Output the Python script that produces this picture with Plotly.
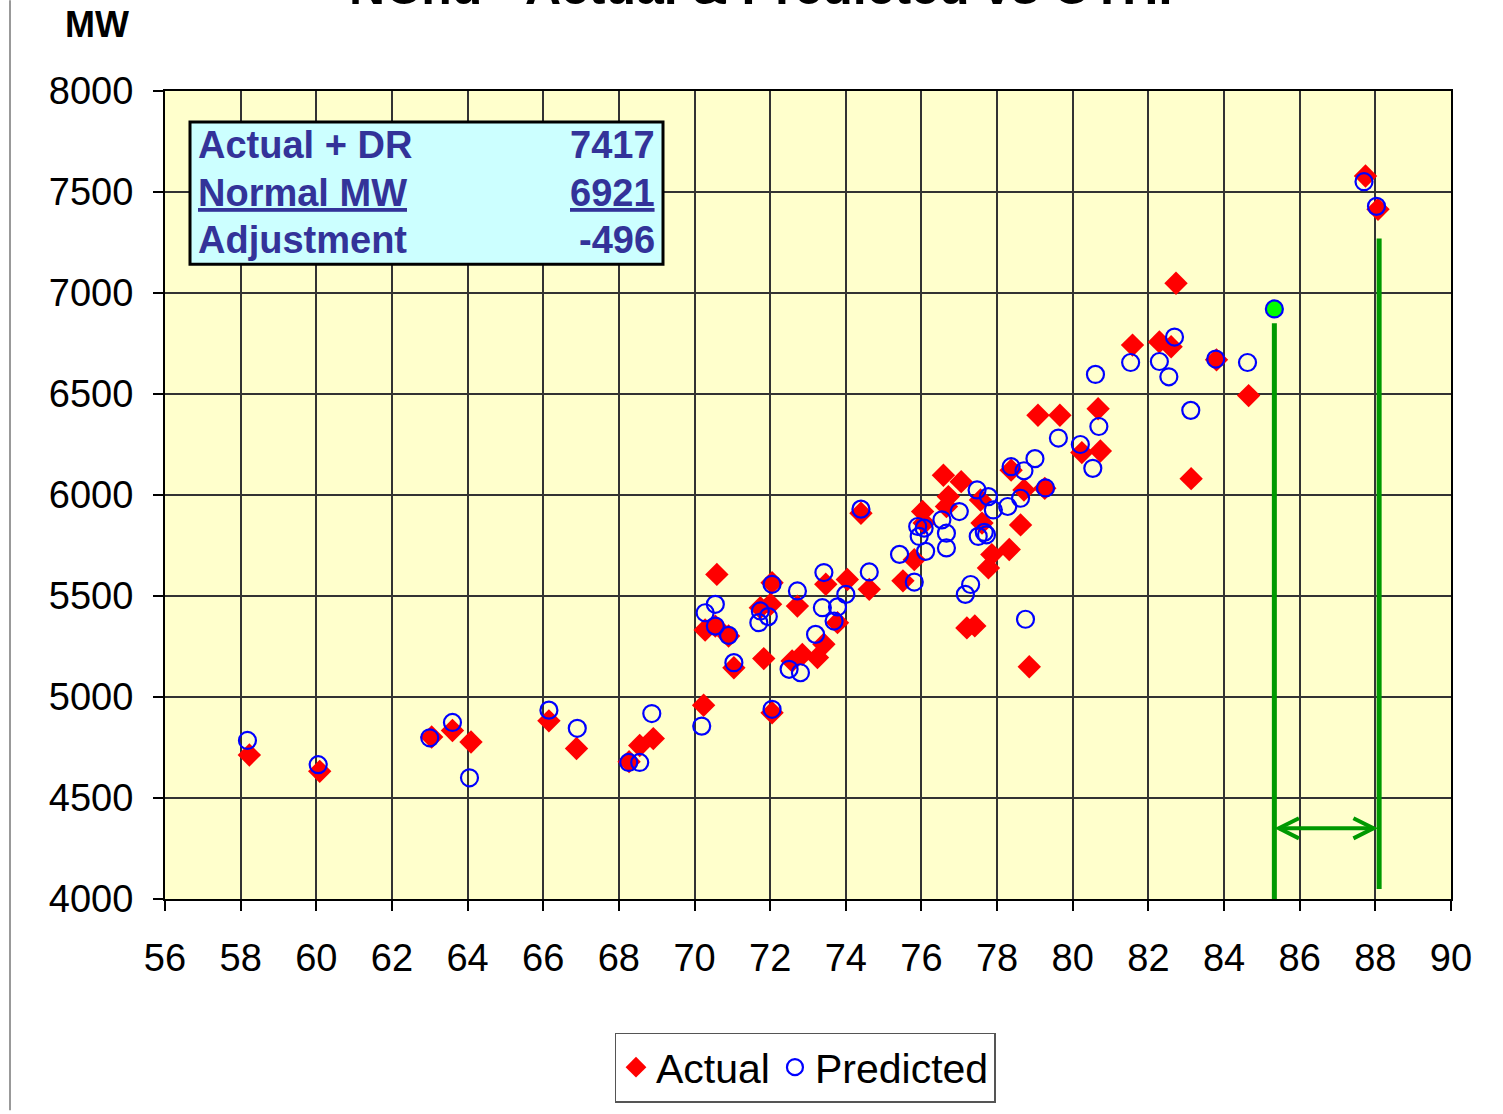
import plotly.graph_objects as go

# Actual load (red diamonds)
actual_x = [58.23, 60.09, 63.05, 63.6, 64.09, 66.15, 66.88, 68.27, 68.55, 68.91,
            70.24, 70.59, 70.28, 70.55, 70.9, 71.04, 71.83, 71.74, 72.05, 72.01,
            72.05, 72.72, 72.58, 72.85, 73.25, 73.42, 73.47, 73.78, 74.04, 74.62,
            74.4, 75.51, 75.81, 76.03, 76.07, 76.58, 77.05, 76.71, 76.66, 77.56,
            77.6, 77.86, 77.77, 78.32, 78.62, 78.71, 79.26, 78.37, 77.2, 77.41,
            78.85, 79.08, 79.66, 80.67, 80.24, 80.73, 81.58, 82.29, 82.6, 82.73,
            83.8, 84.65, 83.13, 87.74, 88.07]
actual_y = [4713, 4632, 4802, 4834, 4777, 4882, 4745, 4680, 4760, 4794,
            4959, 5607, 5332, 5351, 5302, 5145, 5190, 5442, 5566, 5459,
            4922, 5450, 5178, 5211, 5195, 5261, 5558, 5368, 5582, 5533,
            5910, 5575, 5680, 5918, 5861, 6098, 6066, 5992, 5943, 5975,
            5861, 5705, 5639, 5730, 5852, 6025, 6033, 6123, 5342, 5352,
            5150, 6395, 6395, 6427, 6210, 6218, 6742, 6758, 6734, 7048,
            6669, 6492, 6081, 7579, 7414]

# Predicted load (blue open circles)
pred_x = [58.18, 60.05, 63.0, 63.6, 64.05, 66.15, 66.9, 68.26, 68.55, 68.87,
          70.19, 70.28, 70.55, 70.55, 70.9, 71.04, 72.05, 71.74, 71.95, 71.7,
          72.05, 72.72, 72.5, 72.8, 73.2, 73.42, 73.38, 73.78, 73.69, 74.0,
          74.62, 74.4, 75.42, 75.81, 75.9, 76.07, 75.94, 76.54, 77.0, 76.66,
          76.66, 76.11, 77.5, 77.66, 77.72, 77.3, 77.16, 78.75, 77.47, 77.77,
          77.9, 78.28, 78.62, 78.71, 79.0, 79.28, 78.37, 79.62, 80.2, 80.53,
          80.69, 80.6, 81.53, 82.29, 82.54, 82.69, 83.12, 83.78, 84.62, 87.7,
          88.03]
pred_y = [4785, 4665, 4798, 4874, 4600, 4935, 4845, 4676, 4676, 4918,
          4856, 5417, 5459, 5351, 5305, 5170, 5558, 5426, 5398, 5368,
          4939, 5525, 5137, 5120, 5310, 5616, 5442, 5446, 5376, 5508,
          5619, 5930, 5706, 5569, 5844, 5836, 5795, 5877, 5918, 5811,
          5738, 5721, 5795, 5815, 5803, 5557, 5508, 5385, 6025, 5992,
          5926, 5943, 5984, 6120, 6180, 6035, 6140, 6282, 6250, 6132,
          6339, 6597, 6656, 6661, 6585, 6782, 6419, 6673, 6656, 7551,
          7429]

# normal-weather point
normal_x = [85.33]
normal_y = [6921]

# green guide lines: x, y top, y bottom
guide_x = [85.33, 88.1]
guide_top = [6850, 7270]
guide_bottom = [4000, 4050]
arrow_y = 4350
arrow_x = [85.45, 87.95]

table_labels = ["Actual + DR", "<u>Normal MW</u>", "Adjustment"]
table_values = ["7417", "<u>6921</u>", "-496"]

W, H = 1503, 1114
L, R, T, B = 165, 1451, 91, 902


def px_x(p):
    return (p - L) / (R - L)


def px_y(p):
    return (B - p) / (B - T)


fig = go.Figure()
fig.add_trace(go.Scatter(
    x=actual_x, y=actual_y, mode="markers", name="Actual",
    marker=dict(symbol="diamond", size=18, color="#FF0000", line=dict(width=0))))
fig.add_trace(go.Scatter(
    x=pred_x, y=pred_y, mode="markers", name="Predicted",
    marker=dict(symbol="circle-open", size=17, color="#0000FF", line=dict(width=2.2))))
fig.add_trace(go.Scatter(
    x=normal_x, y=normal_y, mode="markers", showlegend=False,
    marker=dict(symbol="circle", size=17, color="#00FF00", line=dict(width=2.2, color="#0000FF"))))

green = "#009900"
shapes = []
for gx, gt, gb in zip(guide_x, guide_top, guide_bottom):
    shapes.append(dict(type="line", xref="x", yref="y", x0=gx, x1=gx, y0=gb, y1=gt,
                       line=dict(color=green, width=5)))
# double headed arrow
hx, hy = 0.53, 50
a0, a1 = arrow_x
shapes.append(dict(type="line", xref="x", yref="y", x0=a0, x1=a1, y0=arrow_y, y1=arrow_y,
                   line=dict(color=green, width=4)))
shapes.append(dict(type="path", xref="x", yref="y",
                   path=f"M{a0 + hx},{arrow_y + hy} L{a0},{arrow_y} L{a0 + hx},{arrow_y - hy}",
                   line=dict(color=green, width=4)))
shapes.append(dict(type="path", xref="x", yref="y",
                   path=f"M{a1 - hx},{arrow_y + hy} L{a1},{arrow_y} L{a1 - hx},{arrow_y - hy}",
                   line=dict(color=green, width=4)))
# table box
shapes.append(dict(type="rect", xref="paper", yref="paper",
                   x0=px_x(190), x1=px_x(663), y0=px_y(265), y1=px_y(122),
                   fillcolor="#CCFFFF", line=dict(color="black", width=3), layer="above"))
# outer chart frame line on the left
shapes.append(dict(type="line", xref="paper", yref="paper",
                   x0=px_x(10), x1=px_x(10), y0=px_y(0), y1=px_y(H),
                   line=dict(color="#777777", width=1.5)))

annotations = []
box_font = dict(family="Liberation Sans", size=38, color="#333399")
for i, (lab, val) in enumerate(zip(table_labels, table_values)):
    yy = px_y(145 + 48 * i)
    annotations.append(dict(xref="paper", yref="paper", x=px_x(196), y=yy,
                            xanchor="left", yanchor="middle", showarrow=False,
                            text=f"<b>{lab}</b>", font=box_font))
    annotations.append(dict(xref="paper", yref="paper", x=px_x(657), y=yy,
                            xanchor="right", yanchor="middle", showarrow=False,
                            text=f"<b>{val}</b>", font=box_font))
annotations.append(dict(xref="paper", yref="paper", x=px_x(97), y=px_y(24),
                        xanchor="center", yanchor="middle", showarrow=False,
                        text="<b>MW</b>", font=dict(family="Liberation Sans", size=36, color="black")))
annotations.append(dict(xref="paper", yref="paper", x=px_x(760), y=px_y(17),
                        xanchor="center", yanchor="bottom", showarrow=False,
                        text="<b>NCnd - Actual & Predicted vs OTHI</b>",
                        font=dict(family="Liberation Sans", size=50, color="black")))

axis_common = dict(
    showgrid=True, gridcolor="#333333", gridwidth=2,
    ticks="outside", ticklen=10, tickwidth=1.5, tickcolor="black",
    showline=True, mirror=True, linecolor="black", linewidth=2,
    zeroline=False,
    tickfont=dict(family="Liberation Sans", size=38, color="black"),
)

fig.update_layout(
    width=W, height=H,
    margin=dict(l=L, r=W - R, t=T, b=H - B),
    paper_bgcolor="white", plot_bgcolor="#FFFFCC",
    xaxis=dict(range=[56, 90], tick0=56, dtick=2, ticklabelstandoff=14, **axis_common),
    yaxis=dict(range=[4000, 8000], tick0=4000, dtick=500, ticklabelstandoff=12, **axis_common),
    shapes=shapes, annotations=annotations,
    showlegend=True,
    legend=dict(orientation="h", x=px_x(805), xanchor="center", y=px_y(1036), yanchor="top",
                bgcolor="white", bordercolor="#555555", borderwidth=1.5,
                font=dict(family="Liberation Sans", size=41, color="black"),
                itemsizing="trace"),
)

# page body has a default 8px margin; remove it so the figure sits at the top-left corner
fig.write_html("out.html", config={"displayModeBar": False},
               post_script="document.body.style.margin='0';")
